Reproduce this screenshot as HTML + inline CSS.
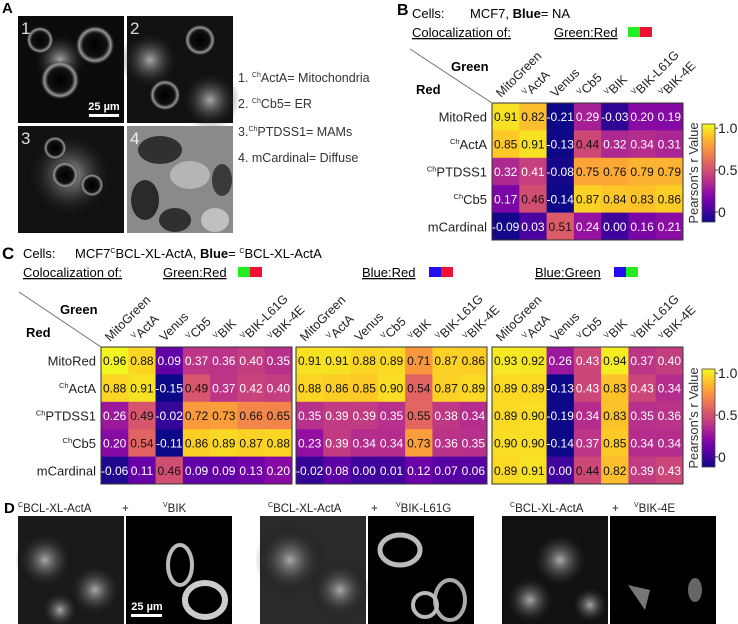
<!DOCTYPE html>
<html><head><meta charset="utf-8">
<style>
body{margin:0;background:#fff;}
svg{display:block;font-family:"Liberation Sans",Arial,sans-serif;}
</style></head>
<body>
<svg id="fig" width="738" height="624" viewBox="0 0 738 624" xmlns="http://www.w3.org/2000/svg">
<defs>
<linearGradient id="plasma" x1="0" y1="1" x2="0" y2="0">
<stop offset="0" stop-color="#0d0887"/><stop offset="0.1" stop-color="#41049d"/><stop offset="0.2" stop-color="#6a00a8"/><stop offset="0.3" stop-color="#8f0da4"/><stop offset="0.4" stop-color="#b12a90"/><stop offset="0.5" stop-color="#cc4778"/><stop offset="0.6" stop-color="#e16462"/><stop offset="0.7" stop-color="#f2844b"/><stop offset="0.8" stop-color="#fca636"/><stop offset="0.9" stop-color="#fcce25"/><stop offset="1" stop-color="#f0f921"/>
</linearGradient>
<radialGradient id="cellA"><stop offset="0" stop-color="#000"/><stop offset="0.6" stop-color="#111"/><stop offset="0.8" stop-color="#999"/><stop offset="1" stop-color="#000" stop-opacity="0"/></radialGradient>
<radialGradient id="blob"><stop offset="0" stop-color="#aaa"/><stop offset="1" stop-color="#000" stop-opacity="0"/></radialGradient>
</defs>

<!-- Panel A -->
<g>
<text x="2" y="13" font-size="15" font-weight="bold">A</text>
<rect x="18" y="16" width="106" height="107" fill="#0b0b0b"/>
<circle cx="60" cy="60" r="28" fill="url(#blob)"/><circle cx="95" cy="45" r="20" fill="url(#cellA)"/><circle cx="60" cy="80" r="20" fill="url(#cellA)"/><circle cx="40" cy="40" r="14" fill="url(#cellA)"/>
<text x="21" y="34" font-size="17" fill="#ddd">1</text>
<rect x="89" y="114" width="30" height="3" fill="#fff"/>
<text x="104" y="110" font-size="11" font-weight="bold" fill="#fff" text-anchor="middle">25 µm</text>
<rect x="127" y="16" width="106" height="107" fill="#111"/>
<circle cx="150" cy="60" r="30" fill="url(#blob)"/><circle cx="210" cy="100" r="30" fill="url(#blob)"/><circle cx="165" cy="95" r="16" fill="url(#cellA)"/><circle cx="200" cy="40" r="16" fill="url(#cellA)"/>
<text x="130" y="34" font-size="17" fill="#ddd">2</text>
<rect x="18" y="126" width="106" height="107" fill="#111"/>
<circle cx="70" cy="175" r="45" fill="url(#blob)"/><circle cx="65" cy="175" r="14" fill="url(#cellA)"/><circle cx="92" cy="185" r="12" fill="url(#cellA)"/><circle cx="55" cy="148" r="12" fill="url(#cellA)"/>
<text x="21" y="144" font-size="17" fill="#ddd">3</text>
<rect x="127" y="126" width="106" height="107" fill="#8a8a8a"/>
<ellipse cx="160" cy="150" rx="22" ry="14" fill="#303030"/><ellipse cx="145" cy="200" rx="14" ry="20" fill="#2a2a2a"/><ellipse cx="175" cy="220" rx="16" ry="12" fill="#303030"/><ellipse cx="222" cy="180" rx="10" ry="16" fill="#3a3a3a"/><ellipse cx="190" cy="175" rx="20" ry="14" fill="#b5b5b5"/><ellipse cx="215" cy="220" rx="14" ry="12" fill="#c0c0c0"/>
<text x="130" y="144" font-size="17" fill="#eee">4</text>
<g font-size="12.5" fill="#333">
<text x="238" y="82">1. <tspan font-size="7" dy="-5">Ch</tspan><tspan dy="5">ActA= Mitochondria</tspan></text>
<text x="238" y="108">2. <tspan font-size="7" dy="-5">Ch</tspan><tspan dy="5">Cb5= ER</tspan></text>
<text x="238" y="136">3.<tspan font-size="7" dy="-5">Ch</tspan><tspan dy="5">PTDSS1= MAMs</tspan></text>
<text x="238" y="162">4. mCardinal= Diffuse</text>
</g>
</g>

<!-- Panel B header -->
<g font-size="13">
<text x="397" y="15" font-size="16" font-weight="bold">B</text>
<text x="412" y="18">Cells:</text>
<text x="470" y="18">MCF7,  <tspan font-weight="bold">Blue</tspan>= NA</text>
<text x="412" y="37" text-decoration="underline">Colocalization of:</text>
<text x="554" y="37" text-decoration="underline">Green:Red</text>
<rect x="628" y="27" width="12" height="10" fill="#22ee22"/><rect x="640" y="27" width="12" height="10" fill="#ee1133"/>
</g>

<!-- Panel C header -->
<g font-size="13">
<text x="2" y="259" font-size="17" font-weight="bold">C</text>
<text x="23" y="258">Cells:</text>
<text x="75" y="258">MCF7<tspan font-size="7" dy="-5">C</tspan><tspan dy="5">BCL-XL-ActA,   </tspan><tspan font-weight="bold">Blue</tspan>= <tspan font-size="7" dy="-5">C</tspan><tspan dy="5">BCL-XL-ActA</tspan></text>
<text x="23" y="277" text-decoration="underline">Colocalization of:</text>
<text x="163" y="277" text-decoration="underline">Green:Red</text>
<rect x="238" y="267" width="12" height="10" fill="#22ee22"/><rect x="250" y="267" width="12" height="10" fill="#ee1133"/>
<text x="362" y="277" text-decoration="underline">Blue:Red</text>
<rect x="429" y="267" width="12" height="10" fill="#2211ee"/><rect x="441" y="267" width="12" height="10" fill="#ee1133"/>
<text x="535" y="277" text-decoration="underline">Blue:Green</text>
<rect x="614" y="267" width="12" height="10" fill="#2211ee"/><rect x="626" y="267" width="12" height="10" fill="#22ee22"/>
</g>

<!-- Panel D -->
<g>
<text x="4" y="513" font-size="15" font-weight="bold">D</text>
<g font-size="11.5" fill="#222">
<text x="18" y="512"><tspan font-size="7" dy="-5">C</tspan><tspan dy="5">BCL-XL-ActA</tspan></text><text x="122" y="512">+</text><text x="163" y="512"><tspan font-size="7" dy="-5">V</tspan><tspan dy="5">BIK</tspan></text>
<text x="268" y="512"><tspan font-size="7" dy="-5">C</tspan><tspan dy="5">BCL-XL-ActA</tspan></text><text x="371" y="512">+</text><text x="396" y="512"><tspan font-size="7" dy="-5">V</tspan><tspan dy="5">BIK-L61G</tspan></text>
<text x="510" y="512"><tspan font-size="7" dy="-5">C</tspan><tspan dy="5">BCL-XL-ActA</tspan></text><text x="612" y="512">+</text><text x="634" y="512"><tspan font-size="7" dy="-5">V</tspan><tspan dy="5">BIK-4E</tspan></text>
</g>
<rect x="18" y="516" width="106" height="108" fill="#1a1a1a"/>
<circle cx="45" cy="560" r="30" fill="url(#blob)"/><circle cx="95" cy="590" r="28" fill="url(#blob)"/><circle cx="60" cy="610" r="20" fill="url(#blob)"/>
<rect x="126" y="516" width="106" height="108" fill="#000"/>
<ellipse cx="180" cy="565" rx="12" ry="20" fill="none" stroke="#bbb" stroke-width="4"/><ellipse cx="205" cy="600" rx="20" ry="17" fill="none" stroke="#ccc" stroke-width="6"/>
<rect x="131" y="614" width="31" height="3" fill="#fff"/>
<text x="147" y="610" font-size="11" font-weight="bold" fill="#fff" text-anchor="middle">25 µm</text>
<rect x="260" y="516" width="106" height="108" fill="#2a2a2a"/>
<circle cx="290" cy="560" r="35" fill="url(#blob)"/><circle cx="340" cy="590" r="30" fill="url(#blob)"/>
<rect x="368" y="516" width="106" height="108" fill="#000"/>
<ellipse cx="400" cy="550" rx="20" ry="15" fill="none" stroke="#bbb" stroke-width="5"/><ellipse cx="450" cy="600" rx="15" ry="20" fill="none" stroke="#aaa" stroke-width="4"/><ellipse cx="425" cy="605" rx="12" ry="12" fill="none" stroke="#bbb" stroke-width="4"/>
<rect x="502" y="516" width="106" height="108" fill="#111"/>
<circle cx="560" cy="560" r="30" fill="url(#blob)"/><circle cx="530" cy="600" r="26" fill="url(#blob)"/><circle cx="590" cy="605" r="20" fill="url(#blob)"/>
<rect x="610" y="516" width="106" height="108" fill="#000"/>
<path d="M628 585 L650 590 L645 610 Z" fill="#777"/><ellipse cx="695" cy="590" rx="7" ry="12" fill="#666"/>
</g>

<g id="charts"></g>
</svg>

<script>
const rowLabels = [["","MitoRed"],["Ch","ActA"],["Ch","PTDSS1"],["Ch","Cb5"],["","mCardinal"]];
const colLabels = [["","MitoGreen"],["V","ActA"],["","Venus"],["V","Cb5"],["V","BIK"],["V","BIK-L61G"],["V","BIK-4E"]];
const valsB = [
 [0.91,0.82,-0.21,0.29,-0.03,0.20,0.19],
 [0.85,0.91,-0.13,0.44,0.32,0.34,0.31],
 [0.32,0.41,-0.08,0.75,0.76,0.79,0.79],
 [0.17,0.46,-0.14,0.87,0.84,0.83,0.86],
 [-0.09,0.03,0.51,0.24,0.00,0.16,0.21]];
const valsC1 = [
 [0.96,0.88,0.09,0.37,0.36,0.40,0.35],
 [0.88,0.91,-0.15,0.49,0.37,0.42,0.40],
 [0.26,0.49,-0.02,0.72,0.73,0.66,0.65],
 [0.20,0.54,-0.11,0.86,0.89,0.87,0.88],
 [-0.06,0.11,0.46,0.09,0.09,0.13,0.20]];
const valsC2 = [
 [0.91,0.91,0.88,0.89,0.71,0.87,0.86],
 [0.88,0.86,0.85,0.90,0.54,0.87,0.89],
 [0.35,0.39,0.39,0.35,0.55,0.38,0.34],
 [0.23,0.39,0.34,0.34,0.73,0.36,0.35],
 [-0.02,0.08,0.00,0.01,0.12,0.07,0.06]];
const valsC3 = [
 [0.93,0.92,0.26,0.43,0.94,0.37,0.40],
 [0.89,0.89,-0.13,0.43,0.83,0.43,0.34],
 [0.89,0.90,-0.19,0.34,0.83,0.35,0.36],
 [0.90,0.90,-0.14,0.37,0.85,0.34,0.34],
 [0.89,0.91,0.00,0.44,0.82,0.39,0.43]];
const cbTicks = [0, 0.5, 1.0];
const cbTickLabels = ["0","0.5","1.0"];

const NS = "http://www.w3.org/2000/svg";
const root = document.getElementById("charts");
const plasma = ["#0d0887","#41049d","#6a00a8","#8f0da4","#b12a90","#cc4778","#e16462","#f2844b","#fca636","#fcce25","#f0f921"];
const VMIN = -0.1, VMAX = 0.97;
function hex(c){return [parseInt(c.slice(1,3),16),parseInt(c.slice(3,5),16),parseInt(c.slice(5,7),16)];}
function color(v){
  let t = (v - VMIN)/(VMAX - VMIN); t = Math.max(0, Math.min(1, t));
  const p = t*10, i = Math.min(9, Math.floor(p)), f = p - i;
  const a = hex(plasma[i]), b = hex(plasma[i+1]);
  return "rgb(" + a.map((x,k)=>Math.round(x+(b[k]-x)*f)).join(",") + ")";
}
function el(tag, attrs, parent){
  const e = document.createElementNS(NS, tag);
  for (const k in attrs) e.setAttribute(k, attrs[k]);
  (parent||root).appendChild(e); return e;
}
function supText(g, x, y, sup, main, attrs){
  const t = el("text", Object.assign({x:x, y:y, "font-size":13}, attrs||{}), g);
  if (sup){ const s = el("tspan", {"font-size":7.5, dy:-5}, t); s.textContent = sup;
    const m = el("tspan", {dy:5}, t); m.textContent = main; }
  else t.textContent = main;
  return t;
}

function heatmap(name, vals, x0, y0, w, h, showRows){
  const g = el("g", {});
  
  
  const cw = w/colLabels.length, rh = h/rowLabels.length;
  const xs = j => x0 + j*cw, ys = i => y0 + i*rh;
  vals.forEach((row,i)=>row.forEach((v,j)=>{
    const r = el("rect", {x:xs(j), y:ys(i), width:cw+0.4, height:rh+0.4, fill:color(v)}, g);
    
    
    const t = el("text", {x:xs(j)+cw/2, y:ys(i)+rh/2+4.5, "font-size":12, "text-anchor":"middle", fill: v>=0.44 ? "#111" : "#fff"}, g);
    
    
    t.textContent = v.toFixed(2);
  }));
  const border = el("rect", {x:x0, y:y0, width:w, height:h, fill:"none", stroke:"#333", "stroke-width":1}, g);
  
  
  colLabels.forEach((c,j)=>{
    const cx = xs(j) + 9, cy = y0 - 5;
    const t = supText(g, cx, cy, c[0], c[1], {transform:"rotate(-45 "+cx+" "+cy+")", fill:"#222", "font-size":12.5});
    
    
  });
  if (showRows){
    rowLabels.forEach((r,i)=>{
      const t = supText(g, x0-5, ys(i)+rh/2+5, r[0], r[1], {"text-anchor":"end", fill:"#222"});
      
      
    });
  }
}

function colorbar(name, x, yTop, yBot){
  const g = el("g", {});
  
  
  const cbMin = -0.12, cbMax = 1.05;
  const sy = v => yBot - (v - cbMin)/(cbMax - cbMin)*(yBot - yTop);
  const r = el("rect", {x:x, y:yTop, width:13, height:yBot-yTop, fill:"url(#plasma)", stroke:"#444", "stroke-width":0.8}, g);
  
  
  cbTicks.forEach((v,k)=>{
    el("line", {x1:x+13, x2:x+16, y1:sy(v), y2:sy(v), stroke:"#444"}, g);
    const t = el("text", {x:x+16, y:sy(v)+5, "font-size":14, fill:"#222"}, g);
    
    
    t.textContent = cbTickLabels[k];
  });
  const cy = (yTop+yBot)/2;
  const t = el("text", {x:x-4, y:cy, "font-size":13, fill:"#333", "text-anchor":"middle", transform:"rotate(-90 "+(x-4)+" "+cy+")"}, g);
  
  
  t.textContent = "Pearson's r Value";
}

function corner(x1,y1,x2,y2,gx,gy,rx,ry){
  const l = el("line", {x1:x1,y1:y1,x2:x2,y2:y2,stroke:"#666","stroke-width":0.8});
  
  
  const a = el("text", {x:gx, y:gy, "font-size":13, "font-weight":"bold"}); a.textContent = "Green";
  
  
  const b = el("text", {x:rx, y:ry, "font-size":13, "font-weight":"bold"}); b.textContent = "Red";
  
  
}

heatmap("heatmap-b", valsB, 492, 103, 191, 137, true);
colorbar("colorbar-b", 702, 124, 222);
corner(410, 49, 492, 103, 451, 71, 416, 94);

heatmap("heatmap-c-green-red", valsC1, 101, 347, 191, 137, true);
heatmap("heatmap-c-blue-red", valsC2, 296, 347, 191, 137, false);
heatmap("heatmap-c-blue-green", valsC3, 492, 347, 191, 137, false);
colorbar("colorbar-c", 702, 369, 467);
corner(19, 292, 101, 347, 60, 314, 26, 337);
</script>
</body></html>
